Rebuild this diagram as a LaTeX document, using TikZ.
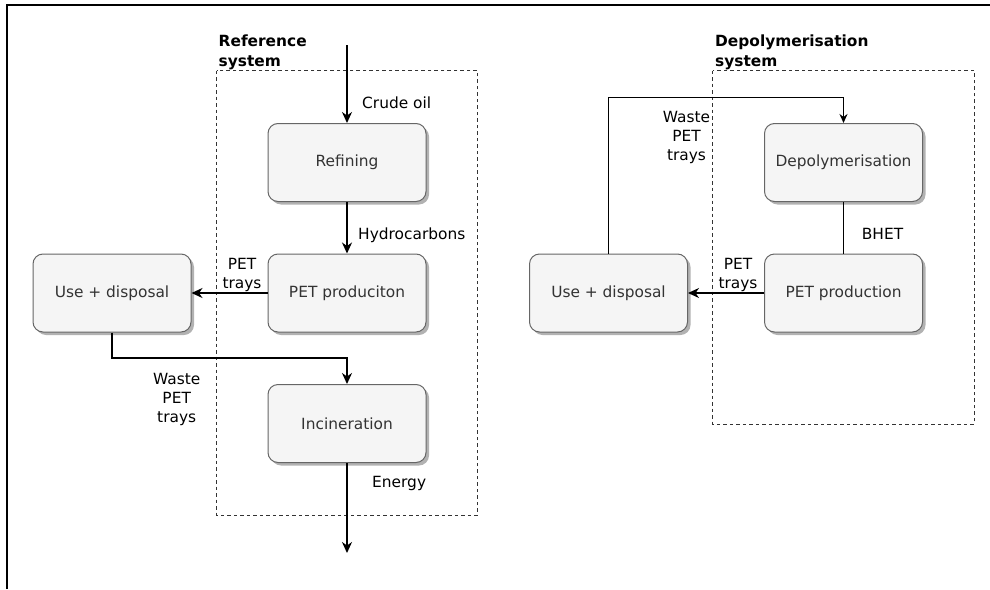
\documentclass[tikz,border=0pt]{standalone}
\usepackage{fontspec}
\setmainfont{DejaVu Sans}
\usetikzlibrary{arrows.meta,shadows}
\definecolor{boxfill}{HTML}{F5F5F5}
\definecolor{boxline}{HTML}{666666}
\definecolor{boxtext}{HTML}{333333}
\definecolor{dashline}{HTML}{333333}
\begin{document}
\begin{tikzpicture}[x=1pt,y=-1pt,
  font=\fontsize{15.4}{19}\selectfont,
  procbox/.style={draw=boxline, line width=1pt, fill=boxfill, rounded corners=10pt,
    minimum width=158pt, minimum height=78pt, inner sep=0pt, text=boxtext,
    drop shadow={shadow xshift=3pt, shadow yshift=-3pt, fill=black!30, opacity=1}},
  flow/.style={line width=1.5pt, -{Stealth[length=11pt,width=10pt,inset=3.5pt]}},
  thinflow/.style={line width=1pt, -{Stealth[length=9pt,width=8pt,inset=3pt]}},
  thinline/.style={line width=1pt},
  sysbox/.style={draw=dashline, line width=1pt, dash pattern=on 3.5pt off 3pt},
  lbl/.style={inner sep=0pt, align=center, anchor=base},
  lbll/.style={inner sep=0pt, anchor=base west},
  title/.style={inner sep=0pt, align=left, anchor=base west, font=\fontsize{15.4}{19.5}\selectfont\bfseries}]
\useasboundingbox (0,0) rectangle (990,589);

% outer frame
\draw[line width=2pt] (6.5,589) -- (6.5,5) -- (990,5);

% system boundaries
\draw[sysbox] (216.7,70.7) rectangle (477.7,515);
\draw[sysbox] (712.7,70.7) rectangle (974.3,424);
% multi-line labels are placed by the baseline of their last line
\node[title] (tref) at (218.5,66.2) {Reference\\system};
\node[title] (tdep) at (715,66.2) {Depolymerisation\\system};

% reference system
\node[procbox] (refL) at (347,162.5) {Refining};
\node[procbox] (petL) at (347,293) {PET produciton};
\node[procbox] (incL) at (347,423.5) {Incineration};
\node[procbox] (useL) at (112,293) {Use + disposal};
\coordinate (oilin) at (347,45);
\coordinate (enout) at (347,553);

\draw[flow] (oilin) -- (refL.north);
\draw[flow] (refL.south) -- (petL.north);
\draw[flow] (petL.west) -- (useL.east);
\draw[flow] (useL.south) |- ([yshift=26pt]incL.north) -- (incL.north);
\draw[flow] (incL.south) -- (enout);

\node[lbll] (lcrude) at (362,108.7) {Crude oil};
\node[lbll] (lhydro) at (358,239.5) {Hydrocarbons};
\node[lbll] (lenergy) at (372,487.3) {Energy};
\node[lbl] (ltraysL) at (242,288.3) {PET\\trays};
\node[lbl] (lwasteL) at (176.7,422.3) {Waste\\PET\\trays};

% depolymerisation system
\node[procbox] (depR) at (843.5,162.5) {Depolymerisation};
\node[procbox] (petR) at (843.5,293) {PET production};
\node[procbox] (useR) at (608.5,293) {Use + disposal};

\draw[thinline] (depR.south) -- (petR.north);
\draw[flow] (petR.west) -- (useR.east);
\draw[thinflow] (useR.north) |- ([yshift=26pt]depR.north) -- (depR.north);

\node[lbll] (lbhet) at (861.7,239.3) {BHET};
\node[lbl] (ltraysR) at (738,288.3) {PET\\trays};
\node[lbl] (lwasteR) at (686.5,160.7) {Waste\\PET\\trays};
\end{tikzpicture}
\end{document}
